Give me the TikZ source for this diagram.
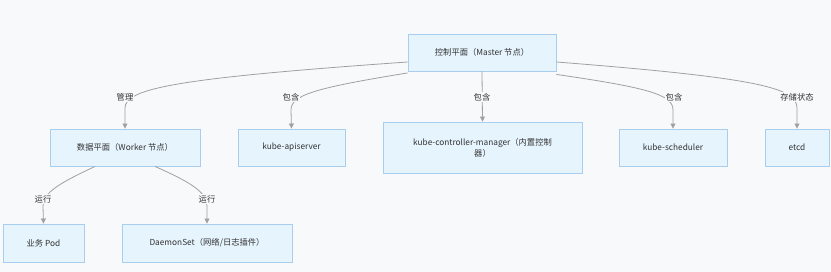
\documentclass[tikz,border=0pt]{standalone}
\usepackage{fontspec}
\setmainfont{Noto Sans CJK SC}
\usetikzlibrary{arrows.meta,calc}
\definecolor{bgc}{HTML}{F8F9FB}
\definecolor{nodefill}{HTML}{E6F4FD}
\definecolor{nodeline}{HTML}{A9CDEE}
\definecolor{edgec}{HTML}{A0A0A0}
\definecolor{txt}{HTML}{333333}
\tikzset{
  box/.style={draw=nodeline, fill=nodefill, line width=0.9pt, inner sep=0pt, font=\fontsize{8.3}{11}\selectfont, text=txt, align=center},
  conn/.style={draw=edgec, line width=0.8pt, -{Triangle[length=5pt,width=5pt]}},
  elabel/.style={font=\fontsize{8.3}{10}\selectfont, text=txt, fill=bgc, inner sep=1pt}
}
\begin{document}
\begin{tikzpicture}[x=1pt,y=-1pt]
\fill[bgc] (0,0) rectangle (831,272);
\useasboundingbox (0,0) rectangle (831,272);
\node[box, minimum width=148pt, minimum height=37pt] (master) at (482,52.5) {控制平面（Master 节点）};
\node[box, minimum width=150pt, minimum height=37pt] (worker) at (125,147.5) {数据平面（Worker 节点）};
\node[box, minimum width=107pt, minimum height=37pt] (api) at (291.5,147.5) {kube-apiserver};
\node[box, minimum width=199pt, minimum height=51pt] (ctrl) at (482.5,147.5) {kube-controller-manager（内置控制\\器）};
\node[box, minimum width=108pt, minimum height=37pt] (sched) at (673,147.5) {kube-scheduler};
\node[box, minimum width=64pt, minimum height=37pt] (etcd) at (797,147.5) {etcd};
\node[box, minimum width=81pt, minimum height=38pt] (pod) at (43.5,243) {业务 Pod};
\node[box, minimum width=170pt, minimum height=38pt] (ds) at (207,243) {DaemonSet（网络/日志插件）};

% edges
\draw[conn] ([yshift=-9.5pt]master.west) .. controls (180,78) and (125,88) .. (125,108) -- (worker.north);
\draw[conn] ([yshift=-1.5pt]master.south west) .. controls (315,88) and (291,95) .. (291,110) -- (api.north);
\draw[conn] (master.south) -- (ctrl.north);
\draw[conn] ([yshift=-3pt]master.south east) .. controls (650,88) and (673,95) .. (673,110) -- (sched.north);
\draw[conn] ([yshift=-9.5pt]master.east) .. controls (760,78) and (797,88) .. (797,108) -- (etcd.north);
\draw[conn] ([xshift=-30pt]worker.south) .. controls (62,182) and (43,192) .. (43,206) -- (pod.north);
\draw[conn] ([xshift=30pt]worker.south) .. controls (190,182) and (207,192) .. (207,206) -- (ds.north);

% labels
\node[elabel] (l1) at (125,97) {管理};
\node[elabel] (la) at (291,97) {包含};
\node[elabel] (lb) at (482,97) {包含};
\node[elabel] (lc) at (674,97) {包含};
\node[elabel] (ld) at (797,97) {存储状态};
\node[elabel] (le) at (43,199) {运行};
\node[elabel] (lf) at (207,199) {运行};
\end{tikzpicture}
\end{document}
